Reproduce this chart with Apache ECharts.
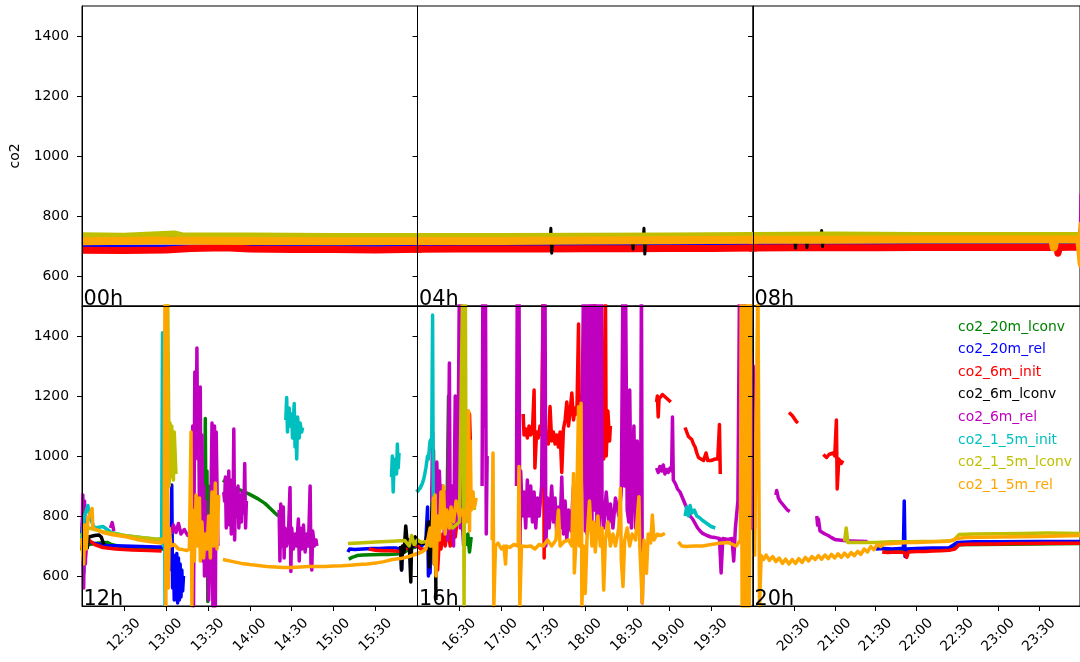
<!DOCTYPE html>
<html><head><meta charset="utf-8">
<script src="https://cdn.jsdelivr.net/npm/echarts@6/dist/echarts.min.js"></script>
<style>html,body{margin:0;padding:0;background:#fff}#c{width:1080px;height:662px}</style>
</head><body><div id="c"></div><script>
// ---- data: [hour of day, co2] ; null = gap ----
const co2_20m_lconv = [[0,688],[3,689],[6,690],[9,691],[11.99,692],
[12.05,700],[12.1,706],[12.2,710],[12.3,712],[12.35,705],[12.5,695],[12.7,692],[12.9,690],[12.97,690],[12.98,null],
[13.46,760],[13.47,1125],[13.48,700],[13.49,950],[13.5,515],[13.51,900],[13.52,860],[13.53,null],
[13.68,920],[13.72,912],[13.77,900],[13.85,890],[13.94,880],[14.0,872],[14.1,857],[14.18,842],[14.22,832],[14.27,818],[14.3,810],[14.34,800],[14.35,null],
[15.18,656],[15.22,662],[15.28,668],[15.35,670],[15.45,671],[15.55,672],[15.65,672],[15.75,673],[15.82,675],[15.9,690],[16.0,700],[16.05,705],[16.1,710],[16.15,720],[16.2,730],[16.25,760],[16.3,790],[16.33,810],[16.35,775],[16.37,1200],[16.38,800],[16.4,780],[16.42,null],
[16.58,700],[16.6,740],[16.62,680],[16.64,730],[16.65,null],
[21.6,682],[22.4,688],[22.5,704],[24,708]];

const co2_20m_rel = [[0,700],[2,701],[4,702],[6,703],[8,705],[10,706],[11.99,706],
[12.0,700],[12.01,800],[12.02,610],[12.03,760],[12.05,700],[12.08,715],[12.15,708],[12.3,702],[12.5,700],[12.7,698],[12.9,697],[12.99,697],
[13.02,680],[13.04,620],[13.06,680],[13.07,903],[13.08,560],[13.09,670],[13.1,520],[13.11,650],[13.12,530],[13.13,675],[13.14,510],[13.15,660],[13.16,520],[13.17,640],[13.18,530],[13.19,620],[13.2,550],[13.21,600],[13.22,null],
[15.17,680],[15.19,690],[15.25,688],[15.35,690],[15.45,692],[15.55,692],[15.65,693],[15.75,693],[15.8,690],[15.81,620],[15.82,690],[15.9,700],[16.0,700],[16.05,700],[16.1,720],[16.12,830],[16.13,600],[16.14,780],[16.15,610],[16.16,700],[16.17,null],
[21.5,690],[21.6,692],[21.7,690],[21.8,692],[21.84,692],[21.85,850],[21.86,665],[21.87,690],[22.0,692],[22.2,693],[22.4,694],[22.5,712],[22.7,714],[23.0,714],[23.5,715],[24.0,715]];

const co2_6m_init = [[0,686],[0.5,685],[1,687],[1.3,692],[1.7,694],[2,690],[2.5,688],[3,688],[3.5,687],[4,689],[4.5,690],[5,690],[5.5,690],[6,691],[6.5,691],[7,692],[7.5,692],[8,693],[8.5,694],[9,694],[9.5,694],[10,695],[10.5,695],[11,695],[11.5,695],[11.72,695],[11.73,676],[11.75,695],[11.99,697],
[12.0,700],[12.02,745],[12.04,660],[12.06,725],[12.08,720],[12.15,705],[12.25,695],[12.4,690],[12.6,687],[12.8,685],[12.95,683],[12.97,null],
[15.42,690],[15.5,686],[15.6,684],[15.7,684],[15.8,682],[15.85,695],[15.9,690],[15.95,705],[16.0,700],[16.05,688],[16.1,690],[16.15,695],[16.2,700],[16.22,760],[16.24,620],[16.26,720],[16.28,690],[16.3,740],[16.33,700],[16.36,760],[16.39,700],[16.42,780],[16.45,730],[16.48,800],[16.5,null],
[16.58,1060],[16.59,1150],[16.6,1080],[16.62,1140],[16.63,1050],[16.64,null],
[17.26,1140],[17.27,1070],[17.29,1090],[17.31,1060],[17.33,1100],[17.35,1070],[17.37,1080],[17.39,1220],[17.4,960],[17.42,1080],[17.44,1060],[17.46,1100],[17.48,1070],[17.5,1600],[17.51,660],[17.52,1050],[17.54,1080],[17.56,1040],[17.58,1165],[17.6,1050],[17.62,1080],[17.64,1040],[17.66,1070],[17.68,1030],[17.7,1080],[17.72,945],[17.74,1090],[17.76,1120],[17.78,1180],[17.8,1100],[17.82,1150],[17.84,1210],[17.86,1120],[17.88,1160],[17.9,1140],[17.92,1440],[17.93,1100],[17.95,1200],[17.97,1080],[17.99,1300],[18.01,1150],[18.03,1400],[18.05,1200],[18.07,1500],[18.09,1250],[18.11,1600],[18.13,1200],[18.16,1300],[18.18,1050],[18.2,1310],[18.22,990],[18.24,1600],[18.25,1000],[18.27,1150],[18.29,1050],[18.3,1100],[18.31,null],
[18.85,1180],[18.86,1200],[18.87,1130],[18.88,1190],[18.9,1195],[18.92,1205],[18.94,1210],[18.96,1195],[18.98,1200],[19.0,1185],[19.02,1180],[19.03,null],
[19.19,1095],[19.21,1080],[19.23,1065],[19.25,1060],[19.27,1055],[19.29,1040],[19.31,1030],[19.33,1010],[19.35,995],[19.38,990],[19.41,985],[19.44,1010],[19.46,985],[19.5,985],[19.55,990],[19.58,990],[19.6,1105],[19.61,940],[19.62,null],
[20.44,1145],[20.46,1150],[20.48,1135],[20.5,1130],[20.53,1115],[20.55,1110],[20.56,null],
[20.86,1005],[20.88,1000],[20.9,995],[20.93,1005],[20.95,1000],[20.98,1010],[21.0,1000],[21.02,1120],[21.03,890],[21.05,990],[21.08,975],[21.1,985],[21.13,null],
[21.58,680],[21.65,678],[21.75,680],[21.85,678],[21.88,662],[21.9,680],[22.0,682],[22.1,682],[22.2,683],[22.3,684],[22.4,686],[22.47,690],[22.52,704],[22.6,706],[22.8,707],[23.0,707],[23.2,708],[23.4,708],[23.6,709],[23.8,709],[24.0,709]];

const co2_6m_lconv = [[0,716],[4,717],[5.58,717],[5.59,759],[5.6,676],[5.61,717],[6.56,718],[6.57,690],[6.58,718],[6.69,718],[6.7,759],[6.71,673],[6.72,718],[8,720],[8.51,720],[8.52,693],[8.53,720],[8.65,720],[8.66,695],[8.67,720],[8.83,720],[8.84,752],[8.85,698],[8.86,720],[11.99,721],[12.0,null],
[12.06,690],[12.08,730],[12.1,735],[12.15,735],[12.2,737],[12.23,730],[12.26,705],[12.28,null],
[15.8,700],[15.81,620],[15.82,700],[15.84,680],[15.86,767],[15.88,700],[15.9,720],[15.92,580],[15.93,720],[15.95,700],[15.97,730],[16.0,712],[16.05,708],[16.1,712],[16.13,780],[16.14,630],[16.16,700],[16.19,1020],[16.2,640],[16.21,900],[16.22,520],[16.23,null]];

const co2_6m_rel = [[0,727],[4,728],[8,731],[11.99,732],[12.0,null],
[12.0,700],[12.01,870],[12.02,560],[12.03,850],[12.04,640],[12.05,750],[12.06,null],
[12.34,760],[12.36,778],[12.38,750],[12.39,null],
[13.06,740],[13.09,770],[13.12,745],[13.15,775],[13.18,740],[13.22,755],[13.26,735],[13.29,745],[13.31,760],[13.32,1100],[13.33,500],[13.345,1280],[13.36,1000],[13.37,1360],[13.38,990],[13.39,1180],[13.4,800],[13.41,1230],[13.42,740],[13.43,1070],[13.44,650],[13.45,900],[13.46,600],[13.47,850],[13.48,620],[13.49,800],[13.51,520],[13.53,700],[13.55,1110],[13.56,500],[13.58,1100],[13.59,500],[13.6,1080],[13.62,700],[13.63,null],
[13.69,880],[13.7,850],[13.71,930],[13.72,760],[13.73,900],[13.74,820],[13.75,950],[13.76,770],[13.77,920],[13.78,740],[13.79,900],[13.8,800],[13.81,1090],[13.82,720],[13.83,880],[13.85,800],[13.86,900],[13.87,760],[13.88,870],[13.9,780],[13.91,880],[13.93,810],[13.94,975],[13.95,760],[13.96,850],[13.97,null],
[14.35,820],[14.36,650],[14.37,840],[14.38,700],[14.4,830],[14.41,660],[14.42,760],[14.44,700],[14.46,730],[14.48,895],[14.49,615],[14.5,760],[14.52,690],[14.54,740],[14.56,700],[14.58,790],[14.59,650],[14.6,760],[14.62,690],[14.64,770],[14.66,680],[14.68,740],[14.7,700],[14.72,900],[14.73,640],[14.74,620],[14.75,750],[14.77,700],[14.79,720],[14.8,700],[14.81,null],
[16.17,850],[16.18,1080],[16.19,780],[16.2,900],[16.22,760],[16.23,980],[16.25,780],[16.26,950],[16.28,800],[16.3,900],[16.32,740],[16.34,880],[16.36,720],[16.38,1310],[16.39,760],[16.41,900],[16.43,700],[16.45,1200],[16.46,780],[16.48,880],[16.5,1600],[16.51,760],[16.52,1600],[16.53,800],[16.55,700],[16.56,null],
[16.77,900],[16.78,1600],[16.8,1100],[16.81,1600],[16.82,740],[16.83,1000],[16.84,null],
[17.18,900],[17.19,1600],[17.2,1200],[17.21,1600],[17.22,640],[17.23,950],[17.25,800],[17.27,880],[17.29,760],[17.31,920],[17.33,800],[17.35,900],[17.37,780],[17.39,880],[17.41,760],[17.43,860],[17.45,800],[17.48,900],[17.5,1600],[17.51,900],[17.52,1600],[17.53,700],[17.55,860],[17.57,760],[17.6,900],[17.62,780],[17.64,860],[17.66,740],[17.68,830],[17.7,760],[17.72,930],[17.74,740],[17.76,850],[17.78,720],[17.8,820],[17.83,750],[17.86,900],[17.89,780],[17.92,940],[17.95,800],
[17.98,1600],[18.0,750],[18.01,1600],[18.02,740],[18.03,1600],[18.05,800],[18.06,1600],[18.08,760],[18.09,1600],[18.11,820],[18.12,1600],[18.14,740],[18.15,1600],[18.17,760],[18.19,1600],[18.2,850],[18.22,760],[18.25,880],[18.28,780],[18.3,840],[18.33,760],[18.36,860],[18.4,800],[18.43,880],[18.45,1600],[18.47,900],[18.48,1600],[18.5,820],[18.52,780],[18.53,1220],[18.55,760],[18.58,1100],[18.6,760],[18.62,1050],[18.64,780],[18.66,850],[18.67,1600],[18.68,510],[18.69,700],[18.7,null],
[18.85,960],[18.87,945],[18.89,965],[18.91,950],[18.93,970],[18.95,940],[18.97,955],[18.99,945],[19.01,960],[19.03,950],[19.04,1130],[19.05,920],[19.08,905],[19.1,890],[19.13,880],[19.16,860],[19.19,840],[19.22,820],[19.25,800],[19.28,790],[19.31,775],[19.34,760],[19.37,750],[19.4,742],[19.45,735],[19.5,730],[19.55,728],[19.6,725],[19.62,610],[19.64,725],[19.7,722],[19.75,725],[19.77,650],[19.79,760],[19.82,850],[19.84,1600],[19.85,900],[19.86,1600],[19.88,1000],[19.9,1600],[19.92,1000],[19.94,1400],[19.96,900],[19.97,1340],[19.98,760],[20.0,1300],[20.01,880],[20.02,760],[20.03,null],
[20.28,870],[20.29,885],[20.31,860],[20.33,850],[20.36,840],[20.39,830],[20.42,820],[20.45,815],[20.46,null],
[20.78,800],[20.79,770],[20.8,790],[20.82,750],[20.85,745],[20.88,740],[20.92,735],[20.96,728],[21.0,722],[21.05,720],[21.1,718],[21.2,717],[21.3,716],[21.4,715],[21.45,null]];

const co2_1_5m_init = [[0,730],[4,731],[8,734],[11.99,735],
[12.0,720],[12.03,800],[12.07,835],[12.1,790],[12.15,760],[12.25,765],[12.35,745],[12.5,735],[12.7,728],[12.9,722],[12.95,725],[12.96,1411],[12.97,700],[12.98,1300],[12.99,500],[13.0,null],
[14.43,1120],[14.44,1195],[14.45,1080],[14.47,1160],[14.48,1100],[14.5,1140],[14.51,1060],[14.53,1175],[14.54,1030],[14.55,1100],[14.56,990],[14.57,1130],[14.59,1060],[14.6,1110],[14.62,1080],[14.63,1095],[14.64,null],
[15.69,930],[15.7,1000],[15.71,880],[15.72,960],[15.74,990],[15.75,940],[15.76,1040],[15.77,960],[15.78,1010],[15.79,null],
[15.99,880],[16.03,892],[16.06,910],[16.08,930],[16.1,960],[16.12,1000],[16.13,990],[16.15,1050],[16.17,1060],[16.18,1470],[16.19,700],[16.2,null],
[19.19,800],[19.21,830],[19.23,800],[19.25,835],[19.27,810],[19.3,820],[19.33,800],[19.36,795],[19.4,785],[19.45,775],[19.5,765],[19.55,760],[19.56,null]];

const co2_1_5m_lconv = [[0,736],[0.5,734],[1.1,742],[1.2,735],[2,735],[3,733],[4,733],[5,733],[6,734],[7,735],[8,737],[9,738],[10,737],[11,737],[11.99,737],[12.0,null],
[12.02,740],[12.05,770],[12.08,760],[12.15,755],[12.25,748],[12.4,740],[12.55,733],[12.7,728],[12.85,724],[12.97,722],[13.0,740],[13.02,1600],[13.04,900],[13.05,1110],[13.06,930],[13.07,1100],[13.09,920],[13.1,1080],[13.12,940],[13.13,null],
[15.17,708],[15.3,710],[15.5,713],[15.7,716],[15.85,718],[15.9,700],[15.93,735],[15.96,705],[16.0,720],[16.05,712],[16.1,715],[16.15,700],[16.18,760],[16.2,730],[16.25,780],[16.3,760],[16.35,790],[16.42,760],[16.5,780],[16.54,1600],[16.555,500],[16.57,1600],[16.58,780],[16.6,800],[16.63,850],[16.66,880],[16.68,820],[16.7,null],
[21.12,715],[21.14,760],[21.16,712],[21.3,712],[21.5,712],[21.7,714],[21.9,714],[22.1,715],[22.3,716],[22.45,718],[22.52,738],[22.7,740],[23.0,741],[23.3,742],[23.6,743],[24.0,742]];

const co2_1_5m_rel = [[0,716],[1,718],[2,717],[3,716],[4,717],[5,717],[6,718],[7,719],[8,721],[9,721],[10,722],[11,722],[11.66,722],[11.68,695],[11.7,722],[11.99,722],
[12.0,700],[12.02,640],[12.03,770],[12.05,690],[12.07,790],[12.1,810],[12.12,825],[12.13,760],[12.17,755],[12.25,745],[12.35,738],[12.5,732],[12.65,722],[12.8,715],[12.95,710],[12.98,730],[12.99,1600],[13.0,500],[13.01,1600],[13.02,950],[13.03,560],[13.04,760],[13.06,700],[13.1,705],[13.15,690],[13.2,688],[13.25,685],[13.28,690],[13.3,1080],[13.31,500],[13.32,820],[13.34,650],[13.36,870],[13.38,700],[13.4,860],[13.41,650],[13.43,780],[13.45,660],[13.47,740],[13.49,690],[13.51,800],[13.53,660],[13.55,880],[13.57,700],[13.59,910],[13.61,690],[13.63,870],[13.64,null],
[13.68,655],[13.8,648],[13.9,642],[14.0,638],[14.1,635],[14.2,632],[14.3,630],[14.4,628],[14.5,628],[14.6,630],[14.7,632],[14.8,632],[14.9,632],[15.0,633],[15.1,634],[15.2,636],[15.3,638],[15.4,640],[15.5,643],[15.6,648],[15.7,655],[15.8,658],[15.9,665],[16.0,675],
[16.05,680],[16.1,690],[16.15,760],[16.17,700],[16.19,860],[16.2,640],[16.21,870],[16.22,600],[16.24,800],[16.26,720],[16.28,880],[16.3,760],[16.31,900],[16.33,740],[16.35,820],[16.38,760],[16.4,830],[16.43,780],[16.46,850],[16.5,800],[16.53,820],[16.56,780],[16.6,850],[16.61,1150],[16.62,750],[16.63,1050],[16.64,820],[16.66,880],[16.68,830],[16.7,860],[16.71,null],
[16.89,720],[16.9,1010],[16.91,500],[16.93,700],[16.96,710],[17.0,690],[17.03,700],[17.05,640],[17.06,700],[17.1,695],[17.15,705],[17.2,700],[17.21,965],[17.22,500],[17.24,700],[17.3,698],[17.35,700],[17.4,690],[17.45,705],[17.5,700],[17.55,720],[17.6,700],[17.65,720],[17.68,820],[17.7,700],[17.75,715],[17.8,720],[17.84,700],[17.86,942],[17.87,610],[17.89,720],[17.92,1164],[17.93,700],[17.95,1176],[17.96,500],[17.98,700],[18.0,542],[18.02,720],[18.05,850],[18.08,700],[18.1,780],[18.12,680],[18.15,800],[18.18,700],[18.2,760],[18.22,553],[18.24,720],[18.27,780],[18.3,700],[18.33,740],[18.36,700],[18.4,760],[18.42,892],[18.43,650],[18.45,565],[18.47,720],[18.5,760],[18.53,700],[18.56,740],[18.6,720],[18.64,864],[18.65,700],[18.68,510],[18.7,720],[18.73,609],[18.75,740],[18.78,710],[18.8,803],[18.82,720],[18.86,740],[18.9,735],[18.95,742],[18.97,null],
[19.11,714],[19.15,700],[19.2,698],[19.3,700],[19.4,700],[19.5,705],[19.6,709],[19.7,712],[19.8,700],[19.85,720],[19.86,1600],[19.87,500],[19.88,1600],[19.895,500],[19.91,1600],[19.925,500],[19.94,1600],[19.955,500],[19.97,1600],[19.98,null],
[20.02,665],[20.06,1600],[20.08,500],[20.1,668],[20.13,655],[20.16,670],[20.2,652],[20.24,665],[20.28,648],[20.32,660],[20.36,642],[20.4,656],[20.44,640],[20.48,655],[20.52,642],[20.56,658],[20.6,645],[20.64,662],[20.68,650],[20.72,665],[20.76,655],[20.8,668],[20.84,656],[20.88,670],[20.92,658],[20.96,672],[21.0,660],[21.04,674],[21.08,662],[21.12,676],[21.16,664],[21.2,678],[21.24,668],[21.28,682],[21.32,672],[21.36,690],[21.4,680],[21.44,698],[21.48,688],[21.52,705],[21.56,698],[21.6,707],[21.7,708],[21.8,710],[21.9,712],[22.0,712],[22.2,714],[22.4,716],[22.5,725],[22.6,728],[23.0,730],[23.5,732],[24.0,735]];

const seriesNames = ['co2_20m_lconv','co2_20m_rel','co2_6m_init','co2_6m_lconv','co2_6m_rel','co2_1_5m_init','co2_1_5m_lconv','co2_1_5m_rel'];
const seriesData = [co2_20m_lconv, co2_20m_rel, co2_6m_init, co2_6m_lconv, co2_6m_rel, co2_1_5m_init, co2_1_5m_lconv, co2_1_5m_rel];
const panelStarts = [0, 4, 8, 12, 16, 20];
const panelLabels = ['00h', '04h', '08h', '12h', '16h', '20h'];
const yTicks = [600, 800, 1000, 1200, 1400];
const xTickHours = [12.5,13,13.5,14,14.5,15,15.5,16.5,17,17.5,18,18.5,19,19.5,20.5,21,21.5,22,22.5,23,23.5];

// ---- styles / layout ----
const seriesColors = ['#008000','#0000ff','#ff0000','#000000','#bf00bf','#00bfbf','#bfbf00','#ffa500'];
const topWidths = [3, 2.5, 7, 3, 3, 3, 6, 8];
const bottomWidth = 3.5;
const colLeft = [82, 417.5, 753];
const panelW = 335.5;
const rowTop = [6, 306];
const panelH = 300;
const FONT = 'DejaVu Sans';

function fmtHour(v) {
  const h = Math.floor(v + 1e-6);
  const m = Math.round((v - h) * 60);
  return String(h).padStart(2, '0') + ':' + String(m).padStart(2, '0');
}

const grids = [], xAxes = [], yAxes = [], series = [], graphics = [];
panelStarts.forEach((s, i) => {
  const row = Math.floor(i / 3), col = i % 3;
  grids.push({left: colLeft[col], top: rowTop[row], width: panelW, height: panelH,
    show: true, borderColor: '#000', borderWidth: 1, backgroundColor: 'transparent'});
  const ticks = xTickHours.filter(t => t > s && t < s + 4);
  xAxes.push({gridIndex: i, type: 'value', min: s, max: s + 4, z: 40,
    axisLine: {show: true, onZero: false, lineStyle: {color: '#000', width: 1}},
    splitLine: {show: false},
    axisTick: {show: row === 1, length: 5, customValues: ticks, lineStyle: {color: '#000'}},
    axisLabel: {show: row === 1, customValues: ticks, formatter: fmtHour, rotate: 45,
      align: 'center', verticalAlign: 'middle', margin: 29,
      fontSize: 13.9, fontFamily: FONT, color: '#000'}});
  yAxes.push({gridIndex: i, type: 'value', min: 500, max: 1500, z: 40,
    axisLine: {show: true, onZero: false, lineStyle: {color: '#000', width: 1}},
    splitLine: {show: false},
    axisTick: {show: true, length: 5, customValues: yTicks, lineStyle: {color: '#000'}},
    axisLabel: {show: col === 0, customValues: yTicks, margin: 13, formatter: v => String(v),
      fontSize: 13.9, fontFamily: FONT, color: '#000'},
    name: i === 0 ? 'co2' : '', nameLocation: 'middle', nameGap: 60, nameRotate: 90,
    nameTextStyle: {fontSize: 13.9, fontFamily: FONT, color: '#000'}});
  seriesData.forEach((d, k) => {
    series.push({type: 'line', name: seriesNames[k], xAxisIndex: i, yAxisIndex: i,
      z: 3 + k,
      data: d.map(p => [p[0], p[1] === null ? '-' : p[1]]),
      showSymbol: false, symbol: 'none', clip: true, silent: true, connectNulls: false,
      emphasis: {disabled: true},
      itemStyle: {color: seriesColors[k]},
      lineStyle: {color: seriesColors[k], width: row === 0 ? topWidths[k] : bottomWidth, join: 'round'}});
  });
  graphics.push({type: 'text', z: 100, x: colLeft[col] + 1.5, y: rowTop[row] + panelH + 4,
    style: {text: panelLabels[i], font: '20.8px "DejaVu Sans"', fill: '#000',
      align: 'left', verticalAlign: 'bottom'}});
});

const chart = echarts.init(document.getElementById('c'), null, {renderer: 'canvas'});
chart.setOption({
  animation: false,
  backgroundColor: '#fff',
  grid: grids, xAxis: xAxes, yAxis: yAxes, series: series,
  graphic: graphics,
  legend: {orient: 'vertical', left: 948, top: 315, itemWidth: 0, itemHeight: 14, itemGap: 8.6, z: 50,
    icon: 'rect', selectedMode: false, itemStyle: {opacity: 0}, lineStyle: {opacity: 0},
    textStyle: {fontSize: 13.9, fontFamily: FONT},
    data: seriesNames.map((n, k) => ({name: n, textStyle: {color: seriesColors[k]}}))}
});
</script></body></html>
